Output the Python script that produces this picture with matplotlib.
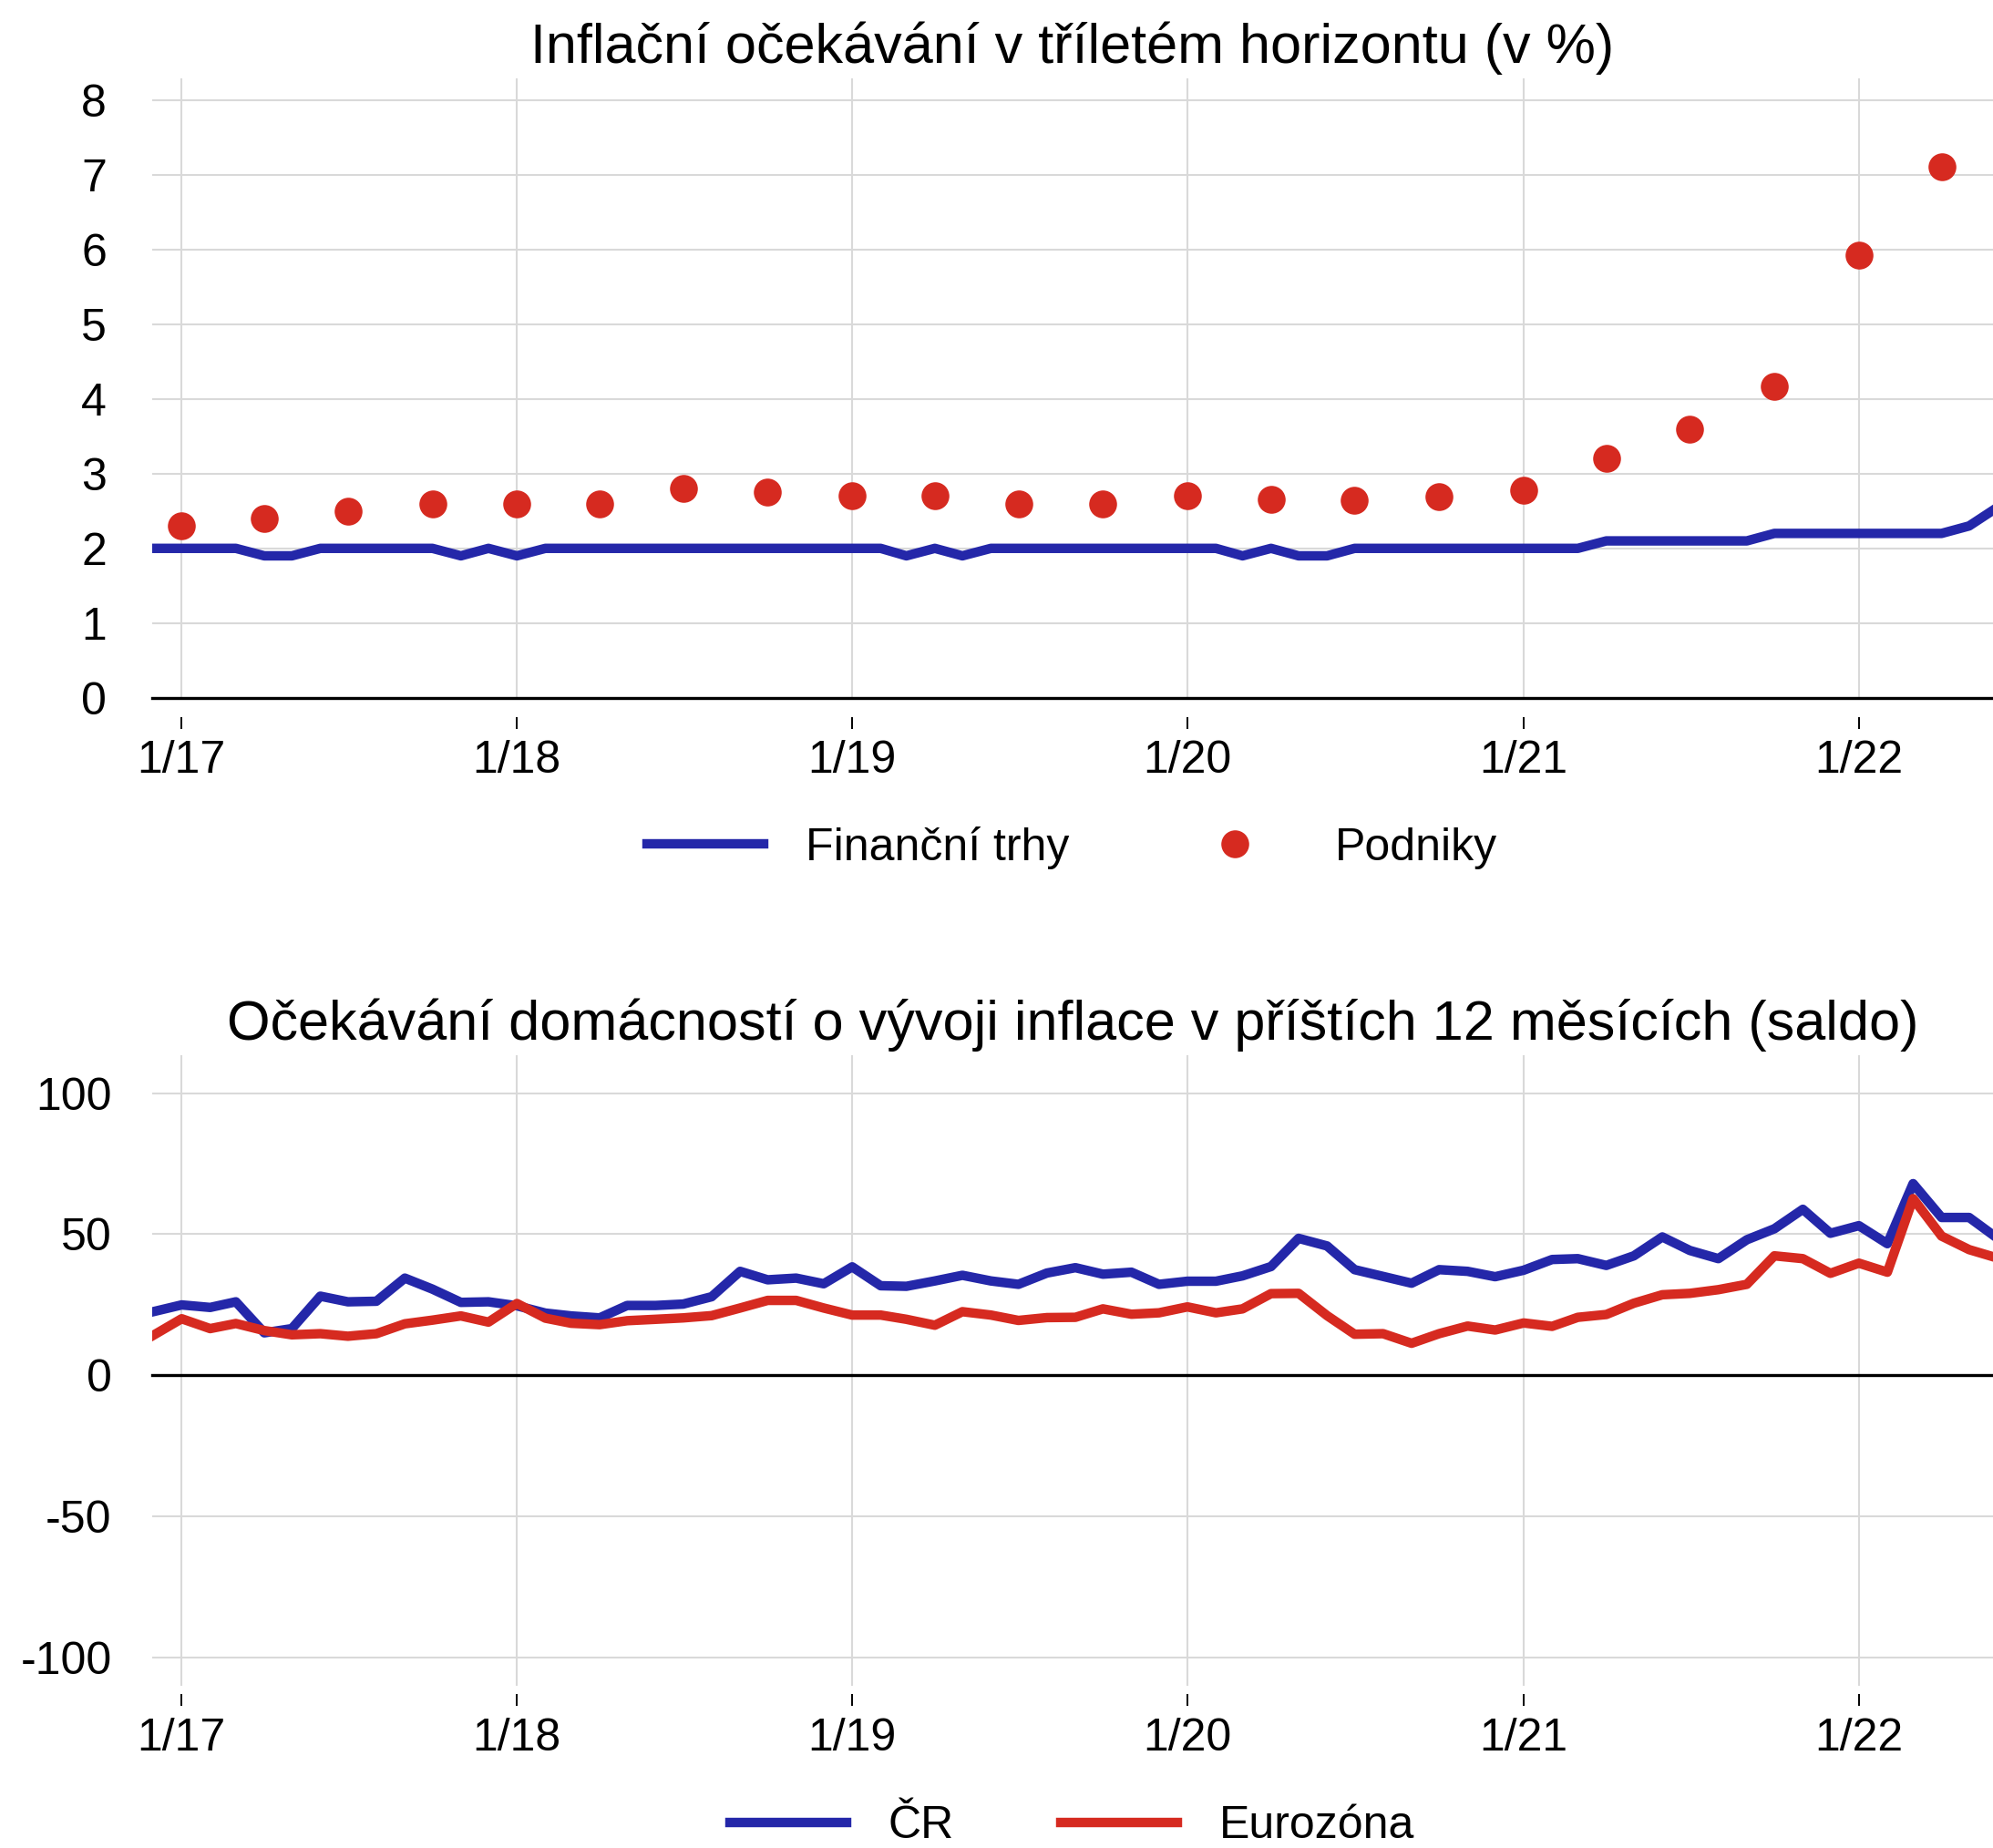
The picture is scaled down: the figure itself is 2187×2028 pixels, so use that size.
import pandas as pd
import numpy as np
import matplotlib
matplotlib.use('Agg')
import matplotlib.pyplot as plt
from matplotlib.lines import Line2D

plt.rcParams['font.family'] = ['Liberation Sans', 'DejaVu Sans']
plt.rcParams['axes.unicode_minus'] = False

# monthly data 12/16 - 6/22
months = pd.date_range('2016-12-01', '2022-06-01', freq='MS')
fin_trhy = [2.0,
            2.0, 2.0, 2.0, 1.9, 1.9, 2.0, 2.0, 2.0, 2.0, 2.0, 1.9, 2.0,
            1.9, 2.0, 2.0, 2.0, 2.0, 2.0, 2.0, 2.0, 2.0, 2.0, 2.0, 2.0,
            2.0, 2.0, 1.9, 2.0, 1.9, 2.0, 2.0, 2.0, 2.0, 2.0, 2.0, 2.0,
            2.0, 2.0, 1.9, 2.0, 1.9, 1.9, 2.0, 2.0, 2.0, 2.0, 2.0, 2.0,
            2.0, 2.0, 2.0, 2.1, 2.1, 2.1, 2.1, 2.1, 2.1, 2.2, 2.2, 2.2,
            2.2, 2.2, 2.2, 2.2, 2.3, 2.55]

# quarterly survey of firms
quarters = pd.date_range('2017-01-01', '2022-04-01', freq='QS')
podniky = [2.3, 2.4, 2.5, 2.6,
           2.6, 2.6, 2.8, 2.75,
           2.7, 2.7, 2.6, 2.6,
           2.7, 2.65, 2.64, 2.69,
           2.78, 3.2, 3.6, 4.17,
           5.93, 7.11]

cr = [22.5,
      24.9, 24.0, 26.0, 15.0, 16.5, 28.0, 26.0, 26.2, 34.4, 30.5, 25.8, 26.0,
      24.6, 22.0, 21.0, 20.3, 24.7, 24.7, 25.2, 27.8, 36.8, 33.8, 34.4, 32.4,
      38.4, 31.7, 31.5, 33.4, 35.4, 33.4, 32.2, 36.2, 38.1, 35.8, 36.5, 32.2,
      33.3, 33.3, 35.2, 38.5, 48.5, 45.8, 37.4, 35.0, 32.6, 37.4, 36.8, 34.9,
      37.2, 41.0, 41.3, 38.9, 42.3, 49.0, 44.2, 41.3, 48.0, 51.9, 58.8, 50.3,
      53.0, 46.6, 67.9, 55.9, 55.9, 48.5]

eurozona = [14.1,
            20.0, 16.5, 18.3, 15.8, 14.3, 14.7, 13.8, 14.7, 18.2, 19.5, 21.0, 18.8,
            25.4, 20.2, 18.4, 17.9, 19.3, 19.8, 20.3, 21.1, 23.8, 26.5, 26.5, 23.8,
            21.3, 21.3, 19.8, 17.7, 22.5, 21.3, 19.4, 20.4, 20.5, 23.5, 21.6, 22.1,
            24.2, 22.1, 23.5, 28.9, 29.0, 21.1, 14.5, 14.7, 11.3, 14.7, 17.4, 16.0,
            18.5, 17.3, 20.5, 21.5, 25.5, 28.5, 29.0, 30.3, 32.2, 42.3, 41.3, 36.1,
            39.7, 36.5, 62.6, 49.3, 44.5, 41.5]

tick_dates = pd.to_datetime(['2017-01-01', '2018-01-01', '2019-01-01',
                             '2020-01-01', '2021-01-01', '2022-01-01'])
tick_labels = ['1/17', '1/18', '1/19', '1/20', '1/21', '1/22']

blue = '#2427a9'
red = '#d62a20'
gridc = '#d9d9d9'

fig = plt.figure(figsize=(21.87, 20.28), dpi=100)
ax1 = fig.add_axes([0.0764, 0.6224, 0.9236, 0.3352])
ax2 = fig.add_axes([0.0764, 0.0880, 0.9236, 0.3411])


def style(ax, outward, ypad):
    for s in ax.spines.values():
        s.set_visible(False)
    ax.spines['bottom'].set_position(('outward', outward))
    ax.set_xticks(tick_dates)
    ax.set_xticklabels(tick_labels)
    ax.set_xlim(pd.Timestamp('2016-11-30'), pd.Timestamp('2022-05-27'))
    ax.grid(True, color=gridc, lw=1.5)
    ax.set_axisbelow(True)
    ax.axhline(0, color='black', lw=2.4, zorder=1.5, clip_on=False)
    ax.tick_params(axis='x', length=9.5, width=1.4, color='black', pad=9, labelsize=36)
    ax.tick_params(axis='y', length=0, pad=ypad, labelsize=36)


# top chart
ax1.plot(months, fin_trhy, color=blue, lw=7.5, zorder=3)
ax1.plot(quarters, podniky, 'o', color=red, ms=22, mec='none', zorder=4)
style(ax1, 15, 36)
ax1.set_ylim(0, 8.29)
ax1.set_yticks(range(0, 9))
ax1.set_title('Inflační očekávání v tříletém horizontu (v %)', fontsize=44, pad=12)

h1 = [Line2D([], [], color=blue, lw=7.5),
      Line2D([], [], marker='o', ls='none', color=red, ms=22, mec='none')]
fig.legend(h1, ['Finanční trhy', 'Podniky'], loc='center', bbox_to_anchor=(0.538, 0.5414),
           ncol=2, frameon=False, fontsize=36, handlelength=2.56, handletextpad=0.92,
           columnspacing=2.34, numpoints=1)

# bottom chart
ax2.plot(months, cr, color=blue, lw=7.5, zorder=3)
ax2.plot(months, eurozona, color=red, lw=7.5, zorder=3)
style(ax2, 7, 32)
ax2.set_ylim(-110, 113.5)
ax2.set_yticks([-100, -50, 0, 50, 100])
ax2.set_title('Očekávání domácností o vývoji inflace v příštích 12 měsících (saldo)',
              fontsize=44, pad=12)

h2 = [Line2D([], [], color=blue, lw=7.5), Line2D([], [], color=red, lw=7.5)]
fig.legend(h2, ['ČR', 'Eurozóna'], loc='center', bbox_to_anchor=(0.538, 0.0118),
           ncol=2, frameon=False, fontsize=36, handlelength=2.56, handletextpad=0.92,
           columnspacing=2.34)

fig.savefig('out.png', dpi=100)
